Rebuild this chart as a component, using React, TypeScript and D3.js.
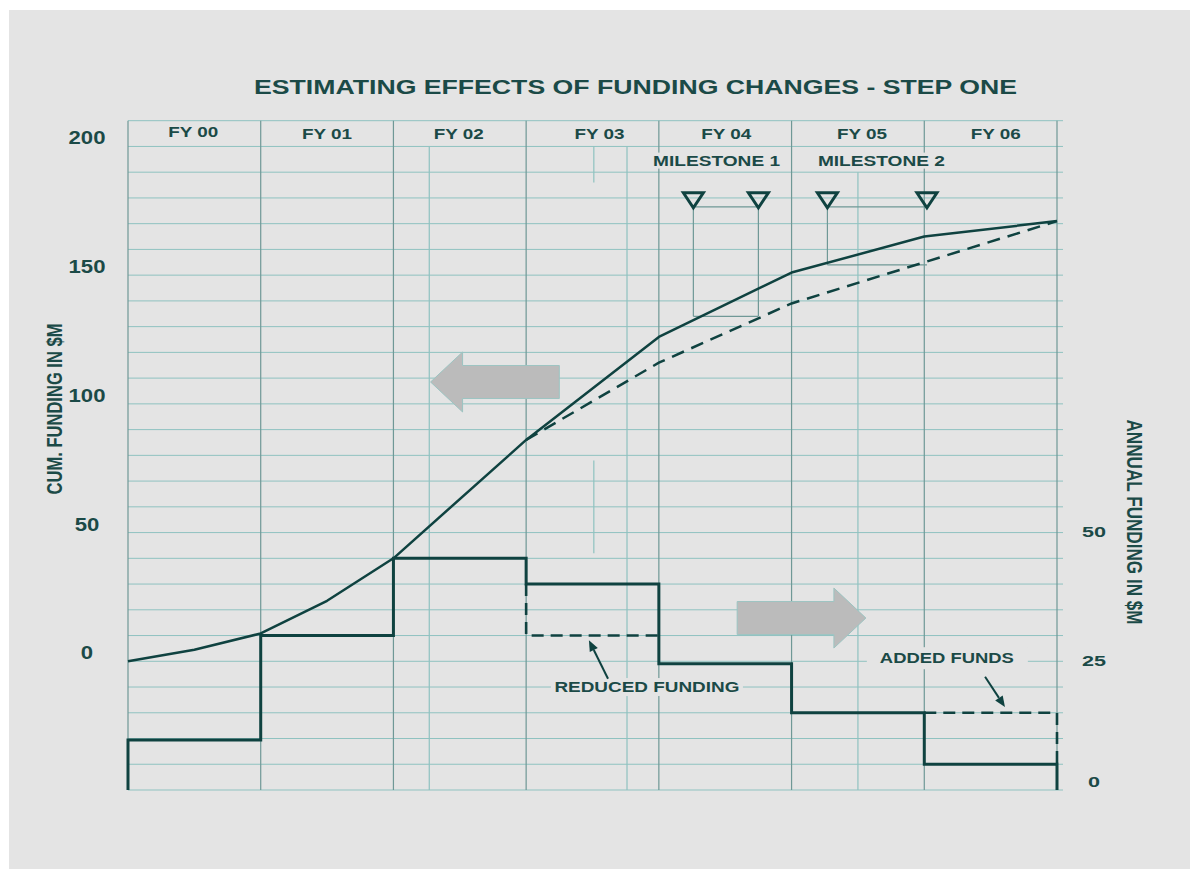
import React from 'react';
import * as d3 from 'd3';

// ---------- data ----------
const fiscalYears = ['FY 00', 'FY 01', 'FY 02', 'FY 03', 'FY 04', 'FY 05', 'FY 06'];
const annualFunding = [9.7, 30, 45, 40, 24.5, 15, 5];
const reducedYear = 3;
const reducedValue = 30;
const addedYear = 6;
const addedValue = 15;

const cumPlanT = [0, 0.5, 1, 1.5, 2, 3, 4, 5, 6, 7];
const cumPlanV = [0, 4.5, 10.8, 23.5, 40, 86, 126, 151, 165, 171];
const cumReducedT = [3, 4, 5, 6, 7];
const cumReducedV = [86, 116, 139, 155, 171];

const milestoneT = [4.26, 4.75, 5.27, 6.02];
const milestoneLabels = ['MILESTONE 1', 'MILESTONE 2'];
const milestoneLabelT = [4.435, 5.677];

const cumTicks = [0, 50, 100, 150, 200];
const annualTicks = [0, 25, 50];

// ---------- layout / style ----------
const W = 1190;
const H = 869;
const FONT = '"Liberation Sans", Arial, sans-serif';
const LINE = '#0f4240';
const TEXT = '#1b4a47';
const GRID_H = '#8fc2c0';
const GRID_V = '#6f9896';
const BG = '#e4e4e4';
const FY_LABEL_DX = [-1, 0, -1, 7, 1, 4, 5];

const x = d3.scaleLinear().domain([0, 7]).range([128, 1057]);
const yCum = d3.scaleLinear().domain([-50, 210]).range([790, 120.7]);
const yAnn = d3.scaleLinear().domain([0, 130]).range([790, 120.7]);

type P = [number, number];

function Txt(props: {
  x: number; y: number; text: string; size: number; width: number;
  anchor?: string; transform?: string;
}) {
  const { text, size, width, anchor = 'middle' } = props;
  return (
    <text
      x={props.transform ? 0 : props.x}
      y={props.transform ? 0 : props.y}
      transform={props.transform}
      textAnchor={anchor}
      dominantBaseline="central"
      fontFamily={FONT}
      fontWeight="bold"
      fontSize={size}
      fill={TEXT}
      textLength={width}
      lengthAdjust="spacingAndGlyphs"
    >
      {text}
    </text>
  );
}

function blockArrow(tipX: number, tailX: number, yc: number) {
  const dir = tipX < tailX ? -1 : 1;
  const headLen = 32;
  const headHalf = 30;
  const bodyHalf = 16.5;
  const xb = tipX - dir * headLen;
  const pts: P[] = [
    [tipX, yc],
    [xb, yc - headHalf],
    [xb, yc - bodyHalf],
    [tailX, yc - bodyHalf],
    [tailX, yc + bodyHalf],
    [xb, yc + bodyHalf],
    [xb, yc + headHalf],
  ];
  return 'M' + pts.map((p) => p.join(',')).join('L') + 'Z';
}

function pointer(x1: number, y1: number, x2: number, y2: number) {
  const ang = Math.atan2(y2 - y1, x2 - x1);
  const len = 11;
  const hw = 4.5;
  const bx = x2 - len * Math.cos(ang);
  const by = y2 - len * Math.sin(ang);
  const nx = -Math.sin(ang);
  const ny = Math.cos(ang);
  return (
    <g>
      <line x1={x1} y1={y1} x2={bx} y2={by} stroke={LINE} strokeWidth={2} />
      <path
        d={`M${x2},${y2}L${bx + nx * hw},${by + ny * hw}L${bx - nx * hw},${by - ny * hw}Z`}
        fill={LINE}
      />
    </g>
  );
}

export default function App() {
  const lineAnn = d3.line<P>().x((d) => x(d[0])).y((d) => yAnn(d[1]));
  const lineCum = d3.line<P>().x((d) => x(d[0])).y((d) => yCum(d[1]));

  const stepPts: P[] = [[0, 0]];
  annualFunding.forEach((v, i) => {
    stepPts.push([i, v]);
    stepPts.push([i + 1, v]);
  });
  stepPts.push([7, 0]);

  const reducedPts: P[] = [
    [reducedYear, annualFunding[reducedYear]],
    [reducedYear, reducedValue],
    [reducedYear + 1, reducedValue],
  ];
  const addedPts: P[] = [
    [addedYear, addedValue],
    [addedYear + 1, addedValue],
    [addedYear + 1, annualFunding[addedYear]],
  ];

  const planPts: P[] = cumPlanT.map((t, i) => [t, cumPlanV[i]]);
  const redPts: P[] = cumReducedT.map((t, i) => [t, cumReducedV[i]]);

  const hLines = d3.range(-50, 211, 10);
  const x0 = x(0);
  const x7 = x(7);
  const yTop = yCum(210);
  const yBot = yCum(-50);

  const mx = milestoneT.map((t) => x(t));
  const triTop = yCum(182);
  const triH = 15;
  const triHalf = 10;

  return (
    <svg
      width={W}
      height={H}
      style={{ position: 'absolute', left: 0, top: 0 }}
      xmlns="http://www.w3.org/2000/svg"
    >
      <rect x={0} y={0} width={W} height={H} fill="#ffffff" />
      <rect x={9} y={10} width={W - 9} height={H - 10} fill={BG} />

      {/* horizontal grid */}
      {hLines.map((v) => (
        <line key={'h' + v} x1={x0} x2={x7 + 6} y1={yCum(v)} y2={yCum(v)} stroke={GRID_H} strokeWidth={1} />
      ))}

      {/* extra thin verticals */}
      {[2.27, 3.76].map((t) => (
        <line key={'xv' + t} x1={x(t)} x2={x(t)} y1={yCum(200)} y2={yBot} stroke={GRID_H} strokeWidth={1.2} />
      ))}
      <line x1={x(5.5)} x2={x(5.5)} y1={yCum(190)} y2={yBot} stroke={GRID_H} strokeWidth={1.2} />
      <line x1={x(3.51)} x2={x(3.51)} y1={yCum(200)} y2={yCum(186)} stroke={GRID_H} strokeWidth={1.2} />
      <line x1={x(3.51)} x2={x(3.51)} y1={yCum(78)} y2={yCum(42)} stroke={GRID_H} strokeWidth={1.2} />

      {/* year boundary verticals */}
      {d3.range(0, 8).map((t) => (
        <line key={'v' + t} x1={x(t)} x2={x(t)} y1={yTop} y2={yBot} stroke={GRID_V} strokeWidth={1.2} />
      ))}

      {/* title */}
      <Txt x={635.5} y={86.5} text="ESTIMATING EFFECTS OF FUNDING CHANGES - STEP ONE" size={20.5} width={763} />

      {/* fiscal year labels */}
      {fiscalYears.map((fy, i) => (
        <Txt key={fy} x={x(i + 0.5) + FY_LABEL_DX[i]} y={i === 0 ? 131 : 133.5} text={fy} size={15} width={50} />
      ))}

      {/* milestone labels */}
      {milestoneLabels.map((m, i) => (
        <g key={m}>
          <rect x={x(milestoneLabelT[i]) - 66} y={yCum(194.5) - 8} width={132} height={16} fill={BG} />
          <Txt x={x(milestoneLabelT[i])} y={yCum(194.5)} text={m} size={14} width={127} />
        </g>
      ))}

      {/* milestone connectors */}
      <g stroke={GRID_V} strokeWidth={1.2} fill="none">
        <line x1={mx[0]} x2={mx[1]} y1={yCum(176.5)} y2={yCum(176.5)} />
        <line x1={mx[2]} x2={mx[3]} y1={yCum(176.5)} y2={yCum(176.5)} />
        <line x1={mx[0]} x2={mx[0]} y1={yCum(176)} y2={yCum(134)} />
        <line x1={mx[1]} x2={mx[1]} y1={yCum(176)} y2={yCum(134)} />
        <line x1={mx[0]} x2={mx[1]} y1={yCum(134)} y2={yCum(134)} />
        <line x1={mx[2]} x2={mx[2]} y1={yCum(176)} y2={yCum(154)} />
        <line x1={mx[2]} x2={mx[3]} y1={yCum(154)} y2={yCum(154)} />
      </g>
      {mx.map((cx, i) => (
        <path
          key={'tri' + i}
          d={`M${cx - triHalf},${triTop}L${cx + triHalf},${triTop}L${cx},${triTop + triH}Z`}
          fill="none"
          stroke={LINE}
          strokeWidth={3}
          strokeLinejoin="miter"
        />
      ))}

      {/* gray block arrows */}
      <path d={blockArrow(x(2.28), x(3.25), yCum(108.5))} fill="#bbbbbb" stroke="#9cc4c2" strokeWidth={1} />
      <path d={blockArrow(x(5.56), x(4.59), yAnn(33.4))} fill="#bbbbbb" stroke="#9cc4c2" strokeWidth={1} />

      {/* cumulative curves */}
      <path d={lineCum(redPts) || ''} fill="none" stroke={LINE} strokeWidth={2.5} strokeDasharray="13,8" />
      <path d={lineCum(planPts) || ''} fill="none" stroke={LINE} strokeWidth={2.5} strokeLinejoin="round" />

      {/* annual step lines */}
      <path d={lineAnn(reducedPts) || ''} fill="none" stroke={LINE} strokeWidth={2.6} strokeDasharray="12,7" />
      <path d={lineAnn(addedPts) || ''} fill="none" stroke={LINE} strokeWidth={2.6} strokeDasharray="12,7" />
      <path d={lineAnn(stepPts) || ''} fill="none" stroke={LINE} strokeWidth={3} />

      {/* annotations */}
      <rect x={x(3.91) - 96} y={yAnn(20) - 9} width={192} height={18} fill={BG} />
      <Txt x={x(3.91)} y={yAnn(20)} text="REDUCED FUNDING" size={14} width={185} />
      {pointer(x(3.617), yAnn(21.6), x(3.473), yAnn(29.1))}

      <rect x={x(6.17) - 80} y={yAnn(25.6) - 11} width={161} height={22} fill={BG} />
      <Txt x={x(6.17)} y={yAnn(25.6)} text="ADDED FUNDS" size={14} width={134} />
      {pointer(x(6.458), yAnn(22.0), x(6.608), yAnn(16.1))}

      {/* left axis */}
      {cumTicks.map((v) => (
        <Txt key={'lt' + v} x={87} y={yCum(v) - 8} text={String(v)} size={17.5} width={String(v).length * 12.3} />
      ))}
      <Txt
        x={0}
        y={0}
        transform="translate(55,409) scale(1.3,1) rotate(-90)"
        text="CUM. FUNDING IN $M"
        size={16.5}
        width={171}
      />

      {/* right axis */}
      {annualTicks.map((v) => (
        <Txt key={'rt' + v} x={1094} y={yAnn(v) - (v === 0 ? 9 : 1)} text={String(v)} size={15} width={String(v).length * 12} />
      ))}
      <Txt
        x={0}
        y={0}
        transform="translate(1135,522) scale(1.3,1) rotate(90)"
        text="ANNUAL FUNDING IN $M"
        size={17}
        width={205}
      />
    </svg>
  );
}
